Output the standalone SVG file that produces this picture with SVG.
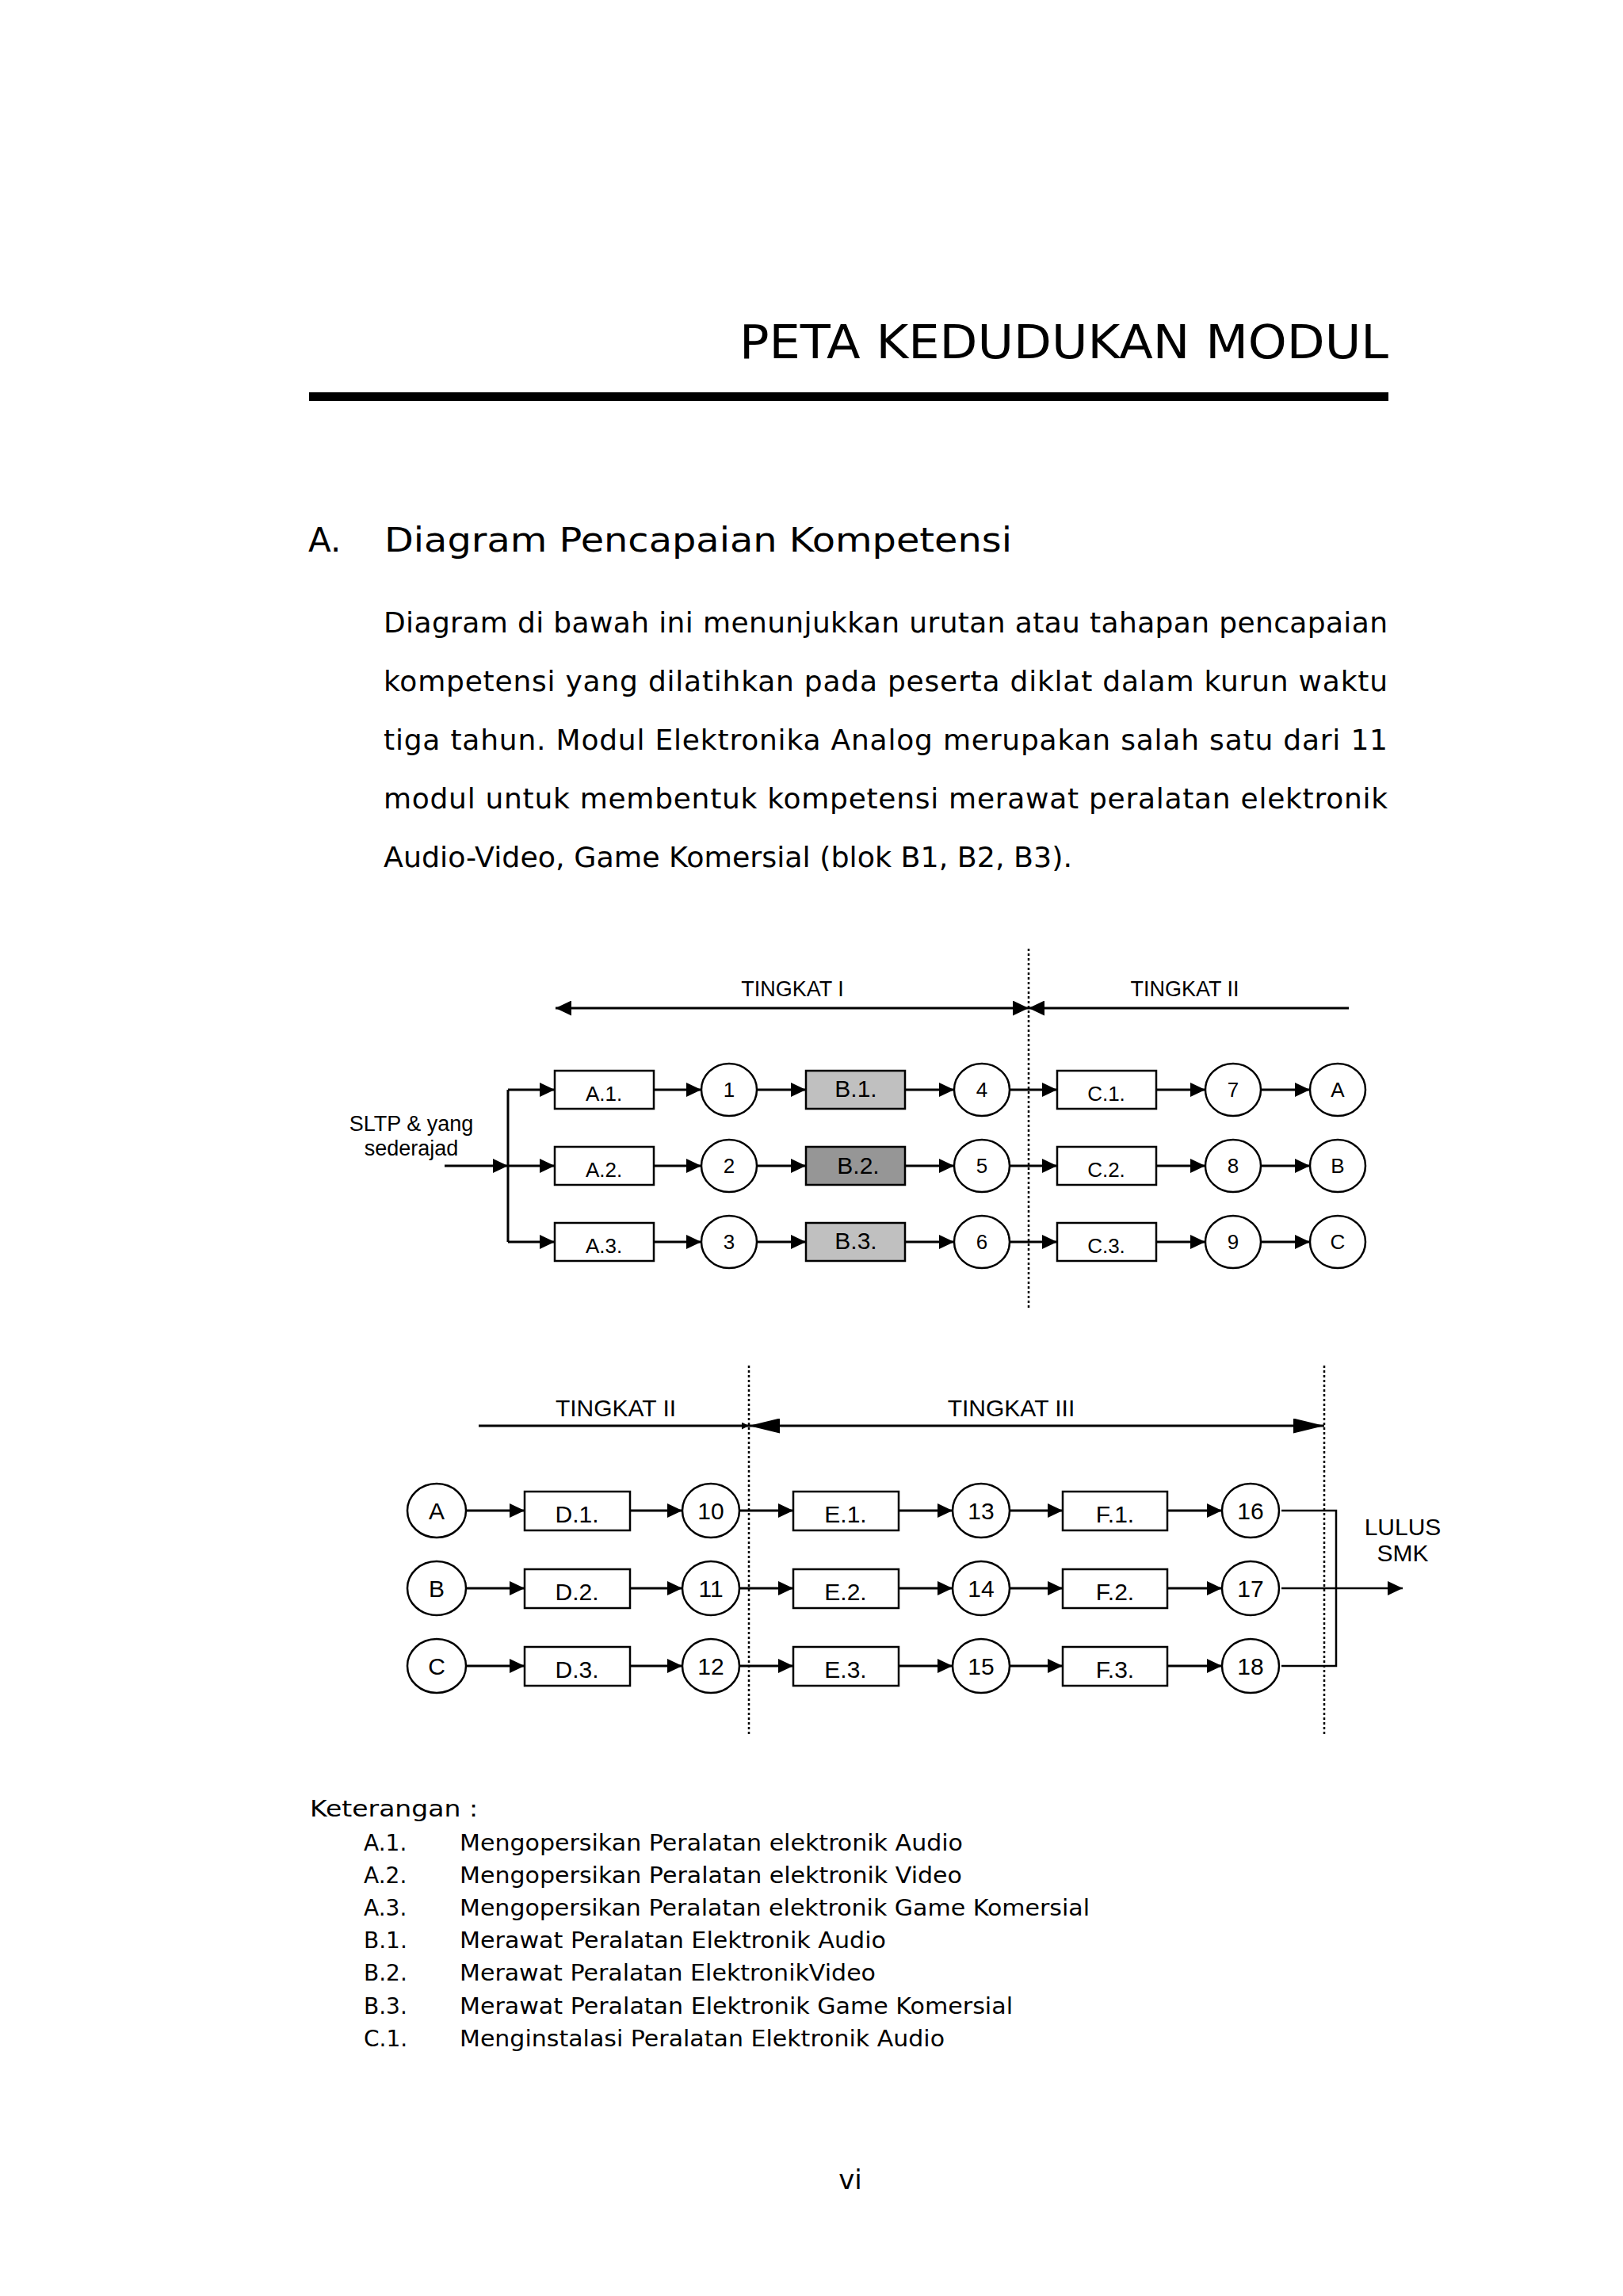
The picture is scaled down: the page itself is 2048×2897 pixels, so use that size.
<svg xmlns="http://www.w3.org/2000/svg" width="2048" height="2897" viewBox="0 0 2048 2897">
<style>
.pg{font-family:"DejaVu Sans","Liberation Sans",sans-serif;fill:#000}
.dg{font-family:"Liberation Sans",Arial,sans-serif;fill:#000;text-anchor:middle}
.box{fill:#fff;stroke:#000;stroke-width:2.5}
.nd{fill:#fff;stroke:#000;stroke-width:2.5}
.ln{fill:none;stroke:#000;stroke-width:3}
.ar{fill:none;stroke:#000;stroke-width:3;marker-end:url(#ah)}
.dot{fill:none;stroke:#000;stroke-width:2.5;stroke-dasharray:3 3}
.s25{font-size:26px}
.s27{font-size:27px}
.sB{font-size:30px}
.s29{font-size:30px}
</style>
<defs>
<marker id="ah" markerUnits="userSpaceOnUse" markerWidth="19" markerHeight="18" viewBox="0 0 19 18" refX="19" refY="9" orient="auto-start-reverse"><path d="M0,0 L19,9 L0,18 z" fill="#000"/></marker>
<marker id="ahT" markerUnits="userSpaceOnUse" markerWidth="20" markerHeight="19" viewBox="0 0 20 19" refX="20" refY="9.5" orient="auto-start-reverse"><path d="M0,0 L20,9.5 L0,19 z" fill="#000"/></marker>
<marker id="ahL" markerUnits="userSpaceOnUse" markerWidth="39" markerHeight="19" viewBox="0 0 39 19" refX="39" refY="9.5" orient="auto-start-reverse"><path d="M0,0 L39,9.5 L0,19 z" fill="#000"/></marker>
<marker id="ahS" markerUnits="userSpaceOnUse" markerWidth="9" markerHeight="9" viewBox="0 0 9 9" refX="9" refY="4.5" orient="auto-start-reverse"><path d="M0,0 L9,4.5 L0,9 z" fill="#000"/></marker>
</defs>
<rect width="2048" height="2897" fill="#fff"/>

<g id="page-header">
<text class="pg" x="1752" y="452" font-size="58" text-anchor="end" textLength="819" lengthAdjust="spacingAndGlyphs">PETA KEDUDUKAN MODUL</text>
<rect x="390" y="495" width="1362" height="11" fill="#000"/>
</g>

<g id="section-heading">
<text class="pg" x="389" y="696" font-size="42">A.</text>
<text class="pg" x="485" y="696" font-size="42" textLength="792" lengthAdjust="spacingAndGlyphs">Diagram Pencapaian Kompetensi</text>
</g>

<g id="paragraph" class="pg" font-size="36">
<text x="484" y="798" textLength="1267" lengthAdjust="spacing">Diagram di bawah ini menunjukkan urutan atau tahapan pencapaian</text>
<text x="484" y="872" textLength="1267" lengthAdjust="spacing">kompetensi yang dilatihkan pada peserta diklat dalam kurun waktu</text>
<text x="484" y="946" textLength="1267" lengthAdjust="spacing">tiga tahun. Modul Elektronika Analog merupakan salah satu dari 11</text>
<text x="484" y="1020" textLength="1267" lengthAdjust="spacing">modul untuk membentuk kompetensi merawat peralatan elektronik</text>
<text x="484" y="1094" textLength="869" lengthAdjust="spacingAndGlyphs">Audio-Video, Game Komersial (blok B1, B2, B3).</text>
</g>

<!-- ===== Upper diagram ===== -->
<g id="upper-guides">
<line class="dot" x1="1298" y1="1197" x2="1298" y2="1652"/>
<line x1="701" y1="1272" x2="1298" y2="1272" stroke="#000" stroke-width="3" marker-start="url(#ahT)" marker-end="url(#ahT)"/>
<line x1="1298" y1="1272" x2="1702" y2="1272" stroke="#000" stroke-width="3" marker-start="url(#ahT)"/>
<text class="dg s27" x="1000" y="1257">TINGKAT I</text>
<text class="dg s27" x="1495" y="1257">TINGKAT II</text>
</g>

<g id="upper-connectors">
<path class="ar" d="M561,1471 H641"/>
<path class="ln" d="M641,1375 V1567"/>
<path class="ar" d="M641,1375 H700"/>
<path class="ar" d="M641,1471 H700"/>
<path class="ar" d="M641,1567 H700"/>
<path class="ar" d="M825,1375 H885"/>
<path class="ar" d="M825,1471 H885"/>
<path class="ar" d="M825,1567 H885"/>
<path class="ar" d="M955,1375 H1017"/>
<path class="ar" d="M955,1471 H1017"/>
<path class="ar" d="M955,1567 H1017"/>
<path class="ar" d="M1142,1375 H1204"/>
<path class="ar" d="M1142,1471 H1204"/>
<path class="ar" d="M1142,1567 H1204"/>
<path class="ar" d="M1274,1375 H1334"/>
<path class="ar" d="M1274,1471 H1334"/>
<path class="ar" d="M1274,1567 H1334"/>
<path class="ar" d="M1459,1375 H1521"/>
<path class="ar" d="M1459,1471 H1521"/>
<path class="ar" d="M1459,1567 H1521"/>
<path class="ar" d="M1591,1375 H1653"/>
<path class="ar" d="M1591,1471 H1653"/>
<path class="ar" d="M1591,1567 H1653"/>
</g>

<g id="n-sltp"><text class="dg s27" x="519" y="1427">SLTP &amp; yang</text><text class="dg s27" x="519" y="1458">sederajad</text></g>

<g id="n-A1"><rect class="box" x="700" y="1351" width="125" height="48"/><text class="dg s25" x="762" y="1389">A.1.</text></g>
<g id="n-A2"><rect class="box" x="700" y="1447" width="125" height="48"/><text class="dg s25" x="762" y="1485">A.2.</text></g>
<g id="n-A3"><rect class="box" x="700" y="1543" width="125" height="48"/><text class="dg s25" x="762" y="1581">A.3.</text></g>

<g id="n-1"><ellipse class="nd" cx="920" cy="1375" rx="35" ry="33"/><text class="dg s25" x="920" y="1384">1</text></g>
<g id="n-2"><ellipse class="nd" cx="920" cy="1471" rx="35" ry="33"/><text class="dg s25" x="920" y="1480">2</text></g>
<g id="n-3"><ellipse class="nd" cx="920" cy="1567" rx="35" ry="33"/><text class="dg s25" x="920" y="1576">3</text></g>

<g id="n-B1"><rect class="box" x="1017" y="1351" width="125" height="48" style="fill:#c0c0c0"/><text class="dg sB" x="1080" y="1384">B.1.</text></g>
<g id="n-B2"><rect class="box" x="1017" y="1447" width="125" height="48" style="fill:#969696"/><text class="dg sB" x="1083" y="1481">B.2.</text></g>
<g id="n-B3"><rect class="box" x="1017" y="1543" width="125" height="48" style="fill:#c0c0c0"/><text class="dg sB" x="1080" y="1576">B.3.</text></g>

<g id="n-4"><ellipse class="nd" cx="1239" cy="1375" rx="35" ry="33"/><text class="dg s25" x="1239" y="1384">4</text></g>
<g id="n-5"><ellipse class="nd" cx="1239" cy="1471" rx="35" ry="33"/><text class="dg s25" x="1239" y="1480">5</text></g>
<g id="n-6"><ellipse class="nd" cx="1239" cy="1567" rx="35" ry="33"/><text class="dg s25" x="1239" y="1576">6</text></g>

<g id="n-C1"><rect class="box" x="1334" y="1351" width="125" height="48"/><text class="dg s25" x="1396" y="1389">C.1.</text></g>
<g id="n-C2"><rect class="box" x="1334" y="1447" width="125" height="48"/><text class="dg s25" x="1396" y="1485">C.2.</text></g>
<g id="n-C3"><rect class="box" x="1334" y="1543" width="125" height="48"/><text class="dg s25" x="1396" y="1581">C.3.</text></g>

<g id="n-7"><ellipse class="nd" cx="1556" cy="1375" rx="35" ry="33"/><text class="dg s25" x="1556" y="1384">7</text></g>
<g id="n-8"><ellipse class="nd" cx="1556" cy="1471" rx="35" ry="33"/><text class="dg s25" x="1556" y="1480">8</text></g>
<g id="n-9"><ellipse class="nd" cx="1556" cy="1567" rx="35" ry="33"/><text class="dg s25" x="1556" y="1576">9</text></g>

<g id="n-outA"><ellipse class="nd" cx="1688" cy="1375" rx="35" ry="33"/><text class="dg s25" x="1688" y="1384">A</text></g>
<g id="n-outB"><ellipse class="nd" cx="1688" cy="1471" rx="35" ry="33"/><text class="dg s25" x="1688" y="1480">B</text></g>
<g id="n-outC"><ellipse class="nd" cx="1688" cy="1567" rx="35" ry="33"/><text class="dg s25" x="1688" y="1576">C</text></g>

<!-- ===== Lower diagram ===== -->
<g id="lower-guides">
<line class="dot" x1="945" y1="1723" x2="945" y2="2188"/>
<line class="dot" x1="1671" y1="1723" x2="1671" y2="2188"/>
<line x1="604" y1="1799" x2="945" y2="1799" stroke="#000" stroke-width="3" marker-end="url(#ahS)"/>
<line x1="945" y1="1799" x2="1671" y2="1799" stroke="#000" stroke-width="3" marker-start="url(#ahL)" marker-end="url(#ahL)"/>
<text class="dg s29" x="777" y="1787">TINGKAT II</text>
<text class="dg s29" x="1276" y="1787">TINGKAT III</text>
</g>

<g id="lower-connectors">
<path class="ar" d="M588,1906 H662"/>
<path class="ar" d="M588,2004 H662"/>
<path class="ar" d="M588,2102 H662"/>
<path class="ar" d="M795,1906 H861"/>
<path class="ar" d="M795,2004 H861"/>
<path class="ar" d="M795,2102 H861"/>
<path class="ar" d="M933,1906 H1001"/>
<path class="ar" d="M933,2004 H1001"/>
<path class="ar" d="M933,2102 H1001"/>
<path class="ar" d="M1134,1906 H1202"/>
<path class="ar" d="M1134,2004 H1202"/>
<path class="ar" d="M1134,2102 H1202"/>
<path class="ar" d="M1274,1906 H1341"/>
<path class="ar" d="M1274,2004 H1341"/>
<path class="ar" d="M1274,2102 H1341"/>
<path class="ar" d="M1473,1906 H1542"/>
<path class="ar" d="M1473,2004 H1542"/>
<path class="ar" d="M1473,2102 H1542"/>
<path d="M1617,1906 H1686 V2102 H1617" fill="none" stroke="#000" stroke-width="2.5"/>
<path d="M1617,2004 H1770" fill="none" stroke="#000" stroke-width="2.5" marker-end="url(#ah)"/>
</g>

<g id="n-inA"><ellipse class="nd" cx="551" cy="1906" rx="37" ry="34"/><text class="dg s29" x="551" y="1917">A</text></g>
<g id="n-inB"><ellipse class="nd" cx="551" cy="2004" rx="37" ry="34"/><text class="dg s29" x="551" y="2015">B</text></g>
<g id="n-inC"><ellipse class="nd" cx="551" cy="2102" rx="37" ry="34"/><text class="dg s29" x="551" y="2113">C</text></g>

<g id="n-D1"><rect class="box" x="662" y="1882" width="133" height="49"/><text class="dg s29" x="728" y="1921">D.1.</text></g>
<g id="n-D2"><rect class="box" x="662" y="1980" width="133" height="49"/><text class="dg s29" x="728" y="2019">D.2.</text></g>
<g id="n-D3"><rect class="box" x="662" y="2078" width="133" height="49"/><text class="dg s29" x="728" y="2117">D.3.</text></g>

<g id="n-10"><ellipse class="nd" cx="897" cy="1906" rx="36" ry="34"/><text class="dg s29" x="897" y="1917">10</text></g>
<g id="n-11"><ellipse class="nd" cx="897" cy="2004" rx="36" ry="34"/><text class="dg s29" x="897" y="2015">11</text></g>
<g id="n-12"><ellipse class="nd" cx="897" cy="2102" rx="36" ry="34"/><text class="dg s29" x="897" y="2113">12</text></g>

<g id="n-E1"><rect class="box" x="1001" y="1882" width="133" height="49"/><text class="dg s29" x="1067" y="1921">E.1.</text></g>
<g id="n-E2"><rect class="box" x="1001" y="1980" width="133" height="49"/><text class="dg s29" x="1067" y="2019">E.2.</text></g>
<g id="n-E3"><rect class="box" x="1001" y="2078" width="133" height="49"/><text class="dg s29" x="1067" y="2117">E.3.</text></g>

<g id="n-13"><ellipse class="nd" cx="1238" cy="1906" rx="36" ry="34"/><text class="dg s29" x="1238" y="1917">13</text></g>
<g id="n-14"><ellipse class="nd" cx="1238" cy="2004" rx="36" ry="34"/><text class="dg s29" x="1238" y="2015">14</text></g>
<g id="n-15"><ellipse class="nd" cx="1238" cy="2102" rx="36" ry="34"/><text class="dg s29" x="1238" y="2113">15</text></g>

<g id="n-F1"><rect class="box" x="1341" y="1882" width="132" height="49"/><text class="dg s29" x="1407" y="1921">F.1.</text></g>
<g id="n-F2"><rect class="box" x="1341" y="1980" width="132" height="49"/><text class="dg s29" x="1407" y="2019">F.2.</text></g>
<g id="n-F3"><rect class="box" x="1341" y="2078" width="132" height="49"/><text class="dg s29" x="1407" y="2117">F.3.</text></g>

<g id="n-16"><ellipse class="nd" cx="1578" cy="1906" rx="36" ry="34"/><text class="dg s29" x="1578" y="1917">16</text></g>
<g id="n-17"><ellipse class="nd" cx="1578" cy="2004" rx="36" ry="34"/><text class="dg s29" x="1578" y="2015">17</text></g>
<g id="n-18"><ellipse class="nd" cx="1578" cy="2102" rx="36" ry="34"/><text class="dg s29" x="1578" y="2113">18</text></g>

<g id="n-lulus"><text class="dg" font-size="30" x="1770" y="1937">LULUS</text><text class="dg" font-size="30" x="1770" y="1970">SMK</text></g>

<!-- ===== Legend ===== -->
<g id="legend" class="pg" font-size="28">
<text x="391" y="2292" font-size="29" textLength="212" lengthAdjust="spacingAndGlyphs">Keterangan :</text>
<text x="459" y="2335">A.1.</text><text x="580" y="2335" textLength="635" lengthAdjust="spacingAndGlyphs">Mengopersikan Peralatan elektronik Audio</text>
<text x="459" y="2376">A.2.</text><text x="580" y="2376" textLength="634" lengthAdjust="spacingAndGlyphs">Mengopersikan Peralatan elektronik Video</text>
<text x="459" y="2417">A.3.</text><text x="580" y="2417" textLength="795" lengthAdjust="spacingAndGlyphs">Mengopersikan Peralatan elektronik Game Komersial</text>
<text x="459" y="2458">B.1.</text><text x="580" y="2458" textLength="538" lengthAdjust="spacingAndGlyphs">Merawat Peralatan Elektronik Audio</text>
<text x="459" y="2499">B.2.</text><text x="580" y="2499" textLength="525" lengthAdjust="spacingAndGlyphs">Merawat Peralatan ElektronikVideo</text>
<text x="459" y="2541">B.3.</text><text x="580" y="2541" textLength="698" lengthAdjust="spacingAndGlyphs">Merawat Peralatan Elektronik Game Komersial</text>
<text x="459" y="2582">C.1.</text><text x="580" y="2582" textLength="612" lengthAdjust="spacingAndGlyphs">Menginstalasi Peralatan Elektronik Audio</text>
</g>

<g id="page-number"><text class="pg" x="1073" y="2762" font-size="34" text-anchor="middle">vi</text></g>
</svg>
